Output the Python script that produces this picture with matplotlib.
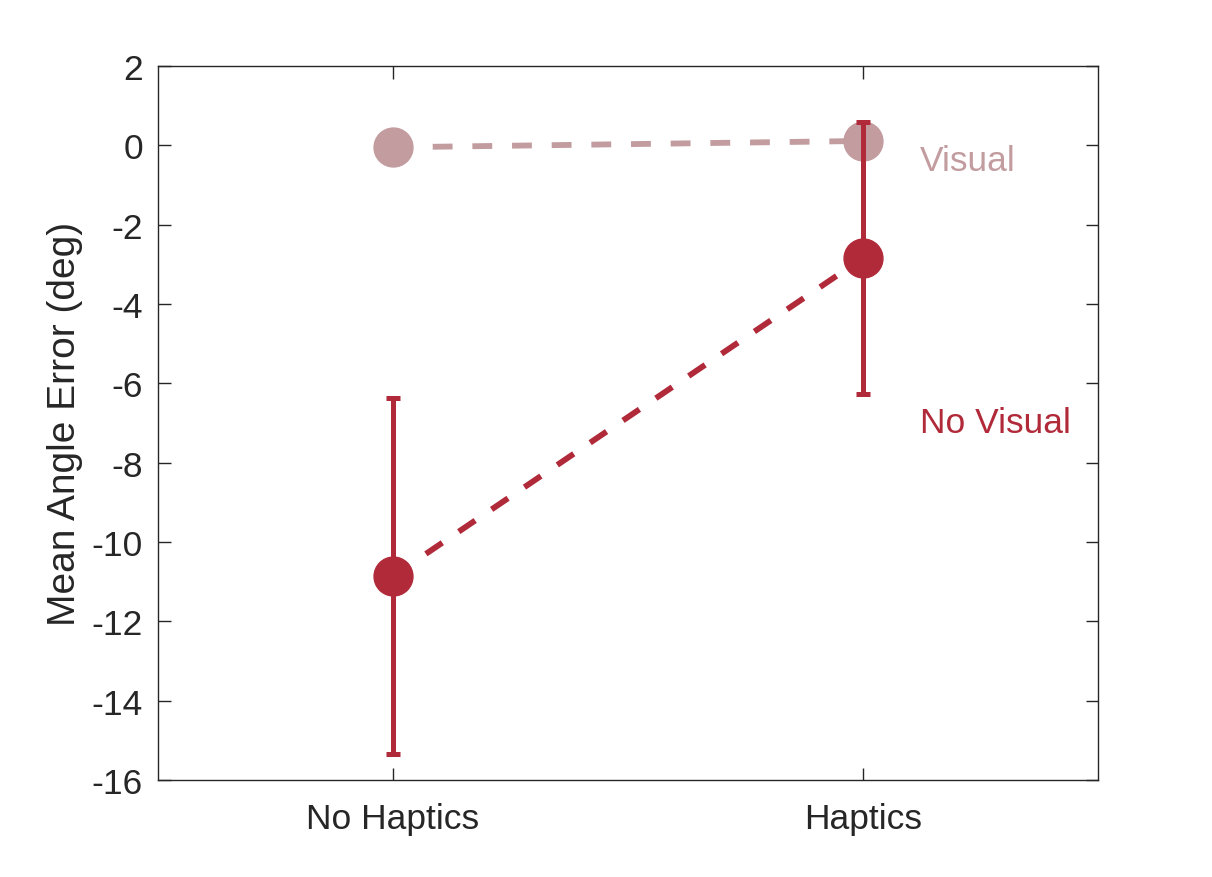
import matplotlib
matplotlib.use("Agg")
import matplotlib.pyplot as plt

# Datos
conditions = ["No Haptics", "Haptics"]
x_pos = [1, 2]
visual_mean = [-0.05, 0.11]
no_visual_mean = [-10.86, -2.84]
no_visual_err = [4.49, 3.43]

col_visual = "#C29C9F"
col_no_visual = "#B12A3A"
txt = "#262626"

plt.rcParams["font.family"] = ["Liberation Sans", "DejaVu Sans"]
plt.rcParams["axes.unicode_minus"] = False

fig = plt.figure(figsize=(12.12, 8.78), dpi=100)
ax = fig.add_axes([0.1304, 0.1105, 0.7756, 0.8132])

# Visual
ax.plot(x_pos, visual_mean, linestyle="--", dashes=(3.4, 3.4), color=col_visual,
        linewidth=4.2, marker="o", markersize=28, zorder=2)

# No Visual con barras de error
ax.plot(x_pos, no_visual_mean, linestyle="--", dashes=(3.4, 3.4), color=col_no_visual,
        linewidth=4.2, marker="o", markersize=28, zorder=3)
ax.errorbar(x_pos, no_visual_mean, yerr=no_visual_err, fmt="none",
            ecolor=col_no_visual, elinewidth=3.6, capsize=5, capthick=3.6, zorder=4)

ax.text(2.121, -0.37, "Visual", color=col_visual, fontsize=25.5, va="center", ha="left")
ax.text(2.121, -7.0, "No Visual", color=col_no_visual, fontsize=25.5, va="center", ha="left")

ax.set_xlim(0.5, 2.5)
ax.set_ylim(-16, 2)
ax.set_xticks(x_pos)
ax.set_xticklabels(conditions)
ax.set_yticks(range(-16, 3, 2))
ax.set_ylabel("Mean Angle Error (deg)", fontsize=28, color=txt, labelpad=6)
ax.tick_params(direction="in", length=9, width=1, colors=txt, labelsize=25.5,
               top=True, right=True)
ax.tick_params(axis="y", pad=11)
ax.tick_params(axis="x", pad=16)
for s in ax.spines.values():
    s.set_color(txt)
    s.set_linewidth(1)

plt.savefig("out.png", dpi=100)
